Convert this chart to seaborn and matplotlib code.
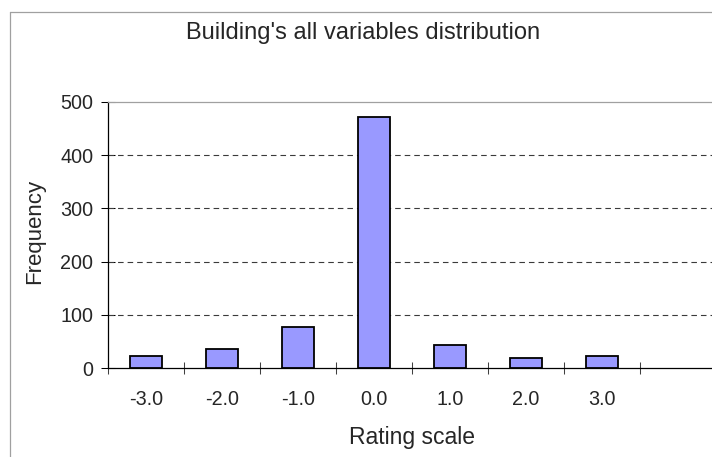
import matplotlib
matplotlib.use("Agg")
import matplotlib.pyplot as plt
import seaborn as sns
import numpy as np
import pandas as pd
from matplotlib.lines import Line2D
from matplotlib.ticker import FixedLocator

# Rating categories and how often each was given
ratings = ["-3.0", "-2.0", "-1.0", "0.0", "1.0", "2.0", "3.0"]
frequency = [23, 36, 77, 472, 43, 20, 23]
y_ticks = [0, 100, 200, 300, 400, 500]

title = "Building's all variables distribution"
x_title = "Rating scale"
y_title = "Frequency"

sns.set_style("white")
plt.rcParams["font.family"] = ["Liberation Sans", "DejaVu Sans"]

W, H = 712, 457
fig = plt.figure(figsize=(W / 100, H / 100), dpi=100)
fig.patch.set_facecolor("white")

# plot area: spans 8 category slots, the last one empty and running past the right edge
ax = fig.add_axes([108 / W, (H - 368.3) / H, 608 / W, 266.6 / H])

df = pd.DataFrame({"Rating": ratings, "Frequency": frequency})
sns.barplot(data=df, x="Rating", y="Frequency", order=ratings,
            color="#9999FF", saturation=1, width=0.41,
            edgecolor="black", linewidth=1.3, ax=ax, zorder=3)

ax.set_xlim(-0.5, 7.5)
ax.set_ylim(y_ticks[0], y_ticks[-1])

# dashed horizontal gridlines between the bottom axis and the top border
for yv in y_ticks[1:-1]:
    ax.axhline(yv, color="#3a3a3a", lw=0.8, linestyle=(0, (5, 3.6)), zorder=1)

# spines
ax.spines["left"].set_color("black")
ax.spines["left"].set_linewidth(0.9)
ax.spines["bottom"].set_color("black")
ax.spines["bottom"].set_linewidth(0.9)
ax.spines["top"].set_color("#a0a0a0")
ax.spines["top"].set_linewidth(0.9)
ax.spines["right"].set_visible(False)

# y axis ticks
ax.set_yticks(y_ticks)
ax.set_yticklabels([str(v) for v in y_ticks])
ax.tick_params(axis="y", which="major", direction="inout", length=9.4, width=0.75,
               color="black", labelsize=14.2, pad=6.0, left=True)

# x axis: labels at category centres, tick marks on the category boundaries
ax.set_xticks(range(len(ratings)))
ax.set_xticklabels(ratings)
ax.tick_params(axis="x", which="major", length=0, labelsize=14.2, pad=15.5)
ax.xaxis.set_minor_locator(FixedLocator(np.arange(-0.5, 8.0, 1.0)))
ax.tick_params(axis="x", which="minor", direction="inout", length=8.2, width=0.75,
               color="#404040", bottom=True)

ax.set_xlabel(x_title, fontsize=16.5)
ax.xaxis.label.set_va("baseline")
ax.xaxis.set_label_coords(0.5, (368.3 - 444) / 266.6)

ax.set_ylabel(y_title, fontsize=16)
ax.yaxis.set_label_coords((45 - 108) / 608, (368.3 - 231.5) / 266.6)

# chart title, centred over the whole chart area
fig.text(363 / W, 1 - 39.3 / H, title, ha="center", va="baseline", fontsize=17)

# outer chart-area border (continues past the right and bottom edges)
fig.add_artist(Line2D([10.3 / W, 10.3 / W], [0, 1 - 11.7 / H], color="#a0a0a0", lw=0.9))
fig.add_artist(Line2D([10.3 / W, 1.0], [1 - 11.7 / H, 1 - 11.7 / H], color="#a0a0a0", lw=0.9))

fig.savefig("out.png", dpi=100)
